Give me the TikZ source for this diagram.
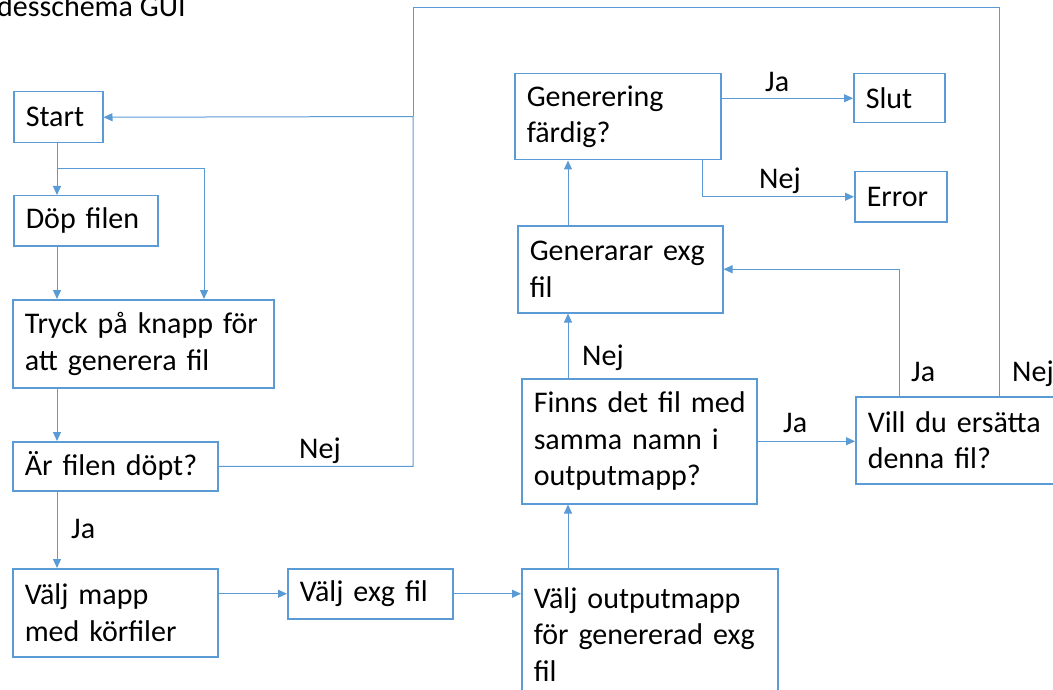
\documentclass[tikz,border=0pt]{standalone}
\usepackage{fontspec}
\setmainfont{Carlito}
\usetikzlibrary{arrows.meta}
\definecolor{office}{RGB}{91,155,213}

\begin{document}
\begin{tikzpicture}[x=1pt, y=-1pt, every node/.style={font=\fontsize{30}{36.6}\selectfont},
  box/.style={draw=office, line width=1.5pt, anchor=north west, align=left, inner xsep=12pt, inner ysep=2pt},
  arr/.style={draw=office, line width=1pt, -{Triangle[length=9pt,width=8pt]}},
  wire/.style={draw=office, line width=1pt},
  lbl/.style={anchor=base west, inner sep=0pt}]
\useasboundingbox (0,0) rectangle (1053,690);
\clip (0,0) rectangle (1053,690);
\node[lbl] (title) at (-3,17) {desschema GUI};
% left column
\node[box, text width=65pt, minimum height=51pt] (start) at (13,91) {Start};
\node[box, text width=120pt, minimum height=50pt] (dop) at (13,195) {Döp filen};
\node[box, text width=237pt, minimum height=88pt] (tryck) at (12,299) {Tryck~på~knapp~för\\att generera fil};
\node[box, text width=181pt, minimum height=49pt] (ar) at (12,441) {Är filen döpt?};
\node[box, text width=181pt, minimum height=88pt] (mapp) at (12,568) {Välj mapp\\med körfiler};
\node[box, text width=141pt, minimum height=50pt] (exg) at (287,568) {Välj exg fil};
% right part
\node[box, text width=232pt, minimum height=131pt] (outp) at (521,568) {Välj outputmapp\\för~genererad~exg\\fil};
\node[box, text width=211pt, minimum height=125pt] (finns) at (521,378) {Finns~det~fil~med\\samma namn i\\outputmapp?};
\node[box, text width=181pt, minimum height=87pt] (gen) at (517,225) {Generarar~exg\\fil};
\node[box, text width=182pt, minimum height=86pt] (klar) at (514,73) {Generering\\färdig?};
\node[box, text width=67pt, minimum height=49pt] (slut) at (853,73) {Slut};
\node[box, text width=68pt, minimum height=50pt] (err) at (854,171) {Error};
\node[box, text width=226pt, minimum height=87pt] (vill) at (855,396) {Vill du ersätta\\denna fil?};
% bends
\coordinate (c1) at (57,0); \coordinate (c2) at (568,0); \coordinate (c3) at (899,0); \coordinate (c4) at (702,0);
\coordinate (split) at (57,169); \coordinate (b1) at (204,169);
\coordinate (j) at (413,116.5); \coordinate (tl) at (413,8); \coordinate (tr) at (999,8);
\draw[arr] (c1 |- start.south) -- (c1 |- dop.north); \draw[arr] (split) -- (b1) -- (b1 |- tryck.north);
\draw[arr] (c1 |- dop.south) -- (c1 |- tryck.north); \draw[arr] (c1 |- tryck.south) -- (c1 |- ar.north);
\draw[arr] (c1 |- ar.south) -- (c1 |- mapp.north);
\draw[arr] (ar.east) -| (j) -- (start.east); \draw[wire] (tr |- vill.north) -- (tr) -- (tl) -- (j);
\draw[arr] (mapp.east |- exg.west) -- (exg.west); \draw[arr] (exg.east) -- (exg.east -| outp.west);
\draw[arr] (c2 |- outp.north) -- (c2 |- finns.south); \draw[arr] (c2 |- finns.north) -- (c2 |- gen.south);
\draw[arr] (c2 |- gen.north) -- (c2 |- klar.south);
\draw[arr] (finns.east) -- (finns.east -| vill.west); \draw[arr] (c3 |- vill.north) |- (gen.east);
\draw[arr] (klar.east |- slut.west) -- (slut.west); \draw[arr] (c4 |- klar.south) |- (err.west);
% labels
\node[lbl] (jaAr) at (71,538) {Ja}; \node[lbl] (nejAr) at (299,458) {Nej};
\node[lbl] (nejFinns) at (582,365) {Nej}; \node[lbl] (jaFinns) at (783,432) {Ja};
\node[lbl] (jaVill) at (911,381) {Ja}; \node[lbl] (nejVill) at (1012,381) {Nej};
\node[lbl] (jaKlar) at (765,92) {Ja}; \node[lbl] (nejKlar) at (759,189) {Nej};
\end{tikzpicture}
\end{document}
